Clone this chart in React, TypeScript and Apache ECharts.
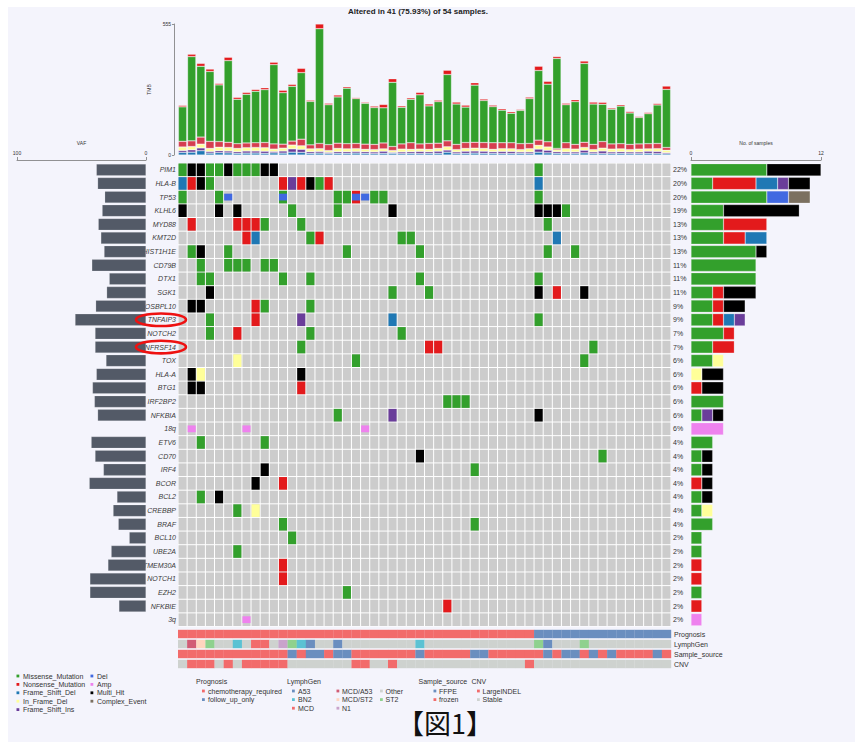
import React, { useEffect, useRef } from "react";
import * as echarts from "echarts";

const FONT = '"Liberation Sans", Arial, Helvetica, sans-serif';
const titleText = "Altered in 41 (75.93%) of 54 samples.";
const figLabel = "【図1】";

const samples = Array.from({ length: 54 }, (_, i) => "S" + (i + 1));

const genes = [
  "PIM1", "HLA-B", "TP53", "KLHL6", "MYD88", "KMT2D", "HIST1H1E", "CD79B", "DTX1", "SGK1",
  "OSBPL10", "TNFAIP3", "NOTCH2", "TNFRSF14", "TOX", "HLA-A", "BTG1", "IRF2BP2", "NFKBIA", "18q",
  "ETV6", "CD70", "IRF4", "BCOR", "BCL2", "CREBBP", "BRAF", "BCL10", "UBE2A", "TMEM30A",
  "NOTCH1", "EZH2", "NFKBIE", "3q",
];
const highlightedGenes = ["TNFAIP3", "TNFRSF14"];
const pctLabels = [
  "22%", "20%", "20%", "19%", "13%", "13%", "13%", "11%", "11%", "11%",
  "9%", "9%", "7%", "7%", "6%", "6%", "6%", "6%", "6%", "6%",
  "4%", "4%", "4%", "4%", "4%", "4%", "4%", "2%", "2%", "2%",
  "2%", "2%", "2%", "2%",
];
const vaf = [
  38.5, 37.5, 32, 34, 37, 35, 32.5, 42, 28.5, 30.5,
  39, 55, 39.5, 39.5, 31, 38.5, 41.5, 40, 37.5, null,
  42.5, 39.5, 33, 44, 22.5, 25.5, 21.5, 13, 27, 29.5,
  43.5, 43.5, 21, null,
];
// sample column + code: M missense, N nonsense, D FS del, I FS ins, F in-frame del,
// H multi hit, L Del (CNV), A Amp (CNV); two letters = mutation + CNV (complex event)
const geneAlts = [
  "0M 1H 2H 3M 4M 5H 6M 7M 8M 9H 10H 39M",
  "0D 1N 2H 3M 11N 12I 13N 14H 15M 16N 39D",
  "0M 4M 5L 11ML 17M 18M 19NL 20L 21M 22M 39M",
  "0H 4H 6H 12M 17M 23H 39H 40H 41H 42M",
  "1N 6N 7N 8N 9M 13M 40M",
  "7N 8D 14M 15N 24M 25M 41D",
  "1M 2H 5M 18M 26M 40M 43M",
  "2M 5M 6M 7M 9M 10M",
  "2M 3M 11M 14M 26M 39M",
  "3H 23M 27M 39H 41N 44H",
  "1H 2H 8N 9M 14M",
  "3M 8N 13I 23D 39M",
  "3M 6N 14M 24M",
  "13M 27N 28N 45M",
  "6F 19M 44M",
  "1H 2F 13H",
  "1H 2H 13N",
  "29M 30M 31M",
  "17M 23I 39H",
  "1A 7A 20A",
  "2M 9M",
  "26H 46M",
  "9H 32M",
  "8H 11N",
  "2M 4H",
  "6M 8F",
  "11M 32M",
  "12M",
  "6M",
  "11N",
  "11N",
  "18M",
  "29N",
  "7A",
];

// TMB stacked layers per sample
const tmbFsDel = [11,12,18,8,10,9,7,8,8,7,9,8,12,11,7,8,6,7,7,8,7,6,7,7,6,7,6,7,7,12,6,7,8,7,7,6,6,7,6,12,9,7,6,6,9,6,6,6,7,6,6,7,6,5];
const tmbFsIns = [8,10,12,7,8,8,7,9,9,9,6,9,14,13,7,7,5,7,7,7,7,7,9,4,7,7,9,7,9,9,7,9,9,9,7,9,9,6,7,13,11,7,7,7,11,7,11,7,7,7,7,9,9,5];
const tmbIfDel = [15,14,16,13,15,15,14,14,15,15,10,12,16,15,12,12,8,14,12,12,10,10,10,8,12,10,10,10,12,14,10,12,12,12,10,12,12,10,14,16,14,8,14,12,12,10,12,12,12,10,12,10,12,10];
const tmbSplice = [24,24,30,30,24,22,20,20,20,22,22,17,17,28,17,22,25,22,22,22,22,22,25,17,22,28,22,25,22,25,22,25,25,25,28,25,25,25,22,22,22,6,25,20,22,22,28,22,22,22,22,22,22,12];
const tmbMissense = [146,357,300,296,240,346,188,206,218,224,336,218,232,282,184,486,169,196,235,190,173,156,149,272,155,184,208,159,176,281,171,150,242,178,153,138,125,141,190,295,244,381,161,181,334,171,158,147,159,133,112,127,163,246];
const tmbNonsense = [6,10,12,10,6,14,8,8,8,8,10,10,8,18,5,20,6,8,6,4,4,6,14,15,6,6,10,8,6,18,8,8,10,6,6,6,6,4,6,18,12,8,6,8,10,8,8,5,6,6,4,5,6,14];

// annotation tracks (one char per sample)
const trackNames = ["Prognosis", "LymphGen", "Sample_source", "CNV"];
const prognosis = "CCCCCCCCCC" + "CCCCCCCCCC" + "CCCCCCCCCC" + "CCCCCCCCC" + "FFFFFFFFFFFFFFF";
const lymphGen = "OxysOObOmm" + "OnsbaOOaOO" + "OOOOOObOOO" + "OOOOOOOOOs" + "aOOOsOOOOO" + "OOOO";
const sampleSource = "rrrrrrrrrr" + "rrFrFFrFFr" + "rrrrrrFrrr" + "rrFFrrrrrr" + "FrFFrFrFrr" + "rrFr";
const cnvTrack = "SLLLSLSLLL" + "LLSSSSSSSL" + "LSSLSSSSSS" + "SSSSSSSSLS" + "SSSSSSSSSS" + "SSSS";

const RED = "#F26B6B";
const BLUE = "#6A8EBF";
const GREYA = "#CED2CF";
const progColors: Record<string, string> = { C: RED, F: BLUE };
const lymphColors: Record<string, string> = {
  a: BLUE, b: "#5BC2D3", m: RED, x: "#D15C75", y: "#FFD5BF", n: "#C9A3CB", O: GREYA, s: "#8FD18E",
};
const sourceColors: Record<string, string> = { F: BLUE, r: RED };
const cnvColors: Record<string, string> = { L: RED, S: GREYA };

const vcColors: Record<string, string> = {
  M: "#33A02C", N: "#E31A1C", D: "#1F78B4", I: "#6A3D9A", F: "#FFFF99",
  H: "#000000", L: "#4169E1", A: "#EE82EE", C: "#7B7060",
};
const countClasses = ["M", "N", "D", "I", "F", "H", "L", "A", "C"];

const legendVc1 = [
  ["Missense_Mutation", "M"], ["Nonsense_Mutation", "N"], ["Frame_Shift_Del", "D"],
  ["In_Frame_Del", "F"], ["Frame_Shift_Ins", "I"],
];
const legendVc2 = [["Del", "L"], ["Amp", "A"], ["Multi_Hit", "H"], ["Complex_Event", "C"]];
const legendProg = [["chemotherapy_required", RED], ["follow_up_only", BLUE]];
const legendLymph1 = [["A53", BLUE], ["BN2", "#5BC2D3"], ["MCD", RED]];
const legendLymph2 = [["MCD/A53", "#D15C75"], ["MCD/ST2", "#FFD5BF"], ["N1", "#C9A3CB"]];
const legendLymph3 = [["Other", GREYA], ["ST2", "#8FD18E"]];
const legendSource = [["FFPE", BLUE], ["frozen", RED]];
const legendCnv = [["LargeINDEL", RED], ["Stable", GREYA]];

// ---- build tables ----
type Cell = { col: number; row: number; mut?: string; cnv?: string };
const cellIndex: Record<string, Cell> = {};
const counts: Record<string, number[]> = {};
countClasses.forEach((c) => (counts[c] = genes.map(() => 0)));
geneAlts.forEach((s, row) => {
  s.split(" ").filter(Boolean).forEach((tok) => {
    const m = tok.match(/^(\d+)([A-Z]+)$/);
    if (!m) return;
    const col = +m[1];
    const codes = m[2];
    const cell: Cell = { col, row };
    for (const ch of codes) {
      if (ch === "L" || ch === "A") cell.cnv = ch;
      else cell.mut = ch;
    }
    cellIndex[row + "_" + col] = cell;
    const cls = codes.length > 1 ? "C" : codes;
    counts[cls][row] += 1;
  });
});
const mainCells: Cell[] = [];
genes.forEach((_, row) => {
  samples.forEach((__, col) => {
    mainCells.push(cellIndex[row + "_" + col] || { col, row });
  });
});
const annoCells: { col: number; row: number; color: string }[] = [];
const tracks = [
  [prognosis, progColors], [lymphGen, lymphColors], [sampleSource, sourceColors], [cnvTrack, cnvColors],
] as [string, Record<string, string>][];
tracks.forEach(([str, cmap], row) => {
  for (let col = 0; col < samples.length; col++) {
    annoCells.push({ col, row, color: cmap[str[col]] || GREYA });
  }
});

function legendBlock(items: string[][], sqX: number, txtX: number, y0: number, step: number, isVc: boolean) {
  const els: any[] = [];
  items.forEach(([label, c], i) => {
    const y = y0 + i * step;
    els.push({
      type: "rect", z: 5,
      shape: { x: sqX, y: y - 1.4, width: 2.8, height: 2.8 },
      style: { fill: isVc ? vcColors[c] : c },
    });
    els.push({
      type: "text", z: 5, x: txtX, y,
      style: { text: label, fill: "#333", fontSize: 7, fontFamily: FONT, align: "left", verticalAlign: "middle" },
    });
  });
  return els;
}
function legendTitle(text: string, x: number, y: number) {
  return {
    type: "text", z: 5, x, y,
    style: { text, fill: "#333", fontSize: 7, fontFamily: FONT, align: "left", verticalAlign: "middle" },
  };
}

const smallAxisText = { fontSize: 5, color: "#333", fontFamily: FONT };
const axisLineStyle = { color: "#777", width: 0.8 };

const GRID_TOP = 163;
const GRID_H = 463.5;

export default function App() {
  const ref = useRef<HTMLDivElement>(null);
  useEffect(() => {
    if (!ref.current) return;
    const chart = echarts.init(ref.current, null, { renderer: "svg" });

    const tmbLayers: [string, number[], string][] = [
      ["Frame_Shift_Del", tmbFsDel, "#1F78B4"],
      ["Frame_Shift_Ins", tmbFsIns, "#6A3D9A"],
      ["In_Frame_Del", tmbIfDel, "#FFFF99"],
      ["Splice_Site", tmbSplice, "#D53E4F"],
      ["Missense_Mutation", tmbMissense, "#33A02C"],
      ["Nonsense_Mutation", tmbNonsense, "#E31A1C"],
    ];

    const rowH = GRID_H / genes.length;
    const ellipses = highlightedGenes.map((g) => {
      const idx = genes.indexOf(g);
      return {
        type: "ellipse", z: 20,
        shape: { cx: 161, cy: GRID_TOP + rowH * (idx + 0.5), rx: 25, ry: 6.3 },
        style: { fill: "none", stroke: "#EE1111", lineWidth: 2.6 },
      };
    });

    const graphics: any[] = [
      { type: "rect", z: -10, shape: { x: 8, y: 7, width: 847, height: 736 }, style: { fill: "#F4F4FC" } },
      { type: "rect", z: -5, shape: { x: 178, y: GRID_TOP, width: 493, height: GRID_H }, style: { fill: "#FFFFFF" } },
      {
        type: "text", z: 5, x: 418, y: 11,
        style: { text: titleText, fill: "#222", fontSize: 8, fontWeight: "bold", fontFamily: FONT, align: "center", verticalAlign: "middle" },
      },
      {
        type: "text", z: 5, x: 445, y: 722,
        style: { text: figLabel, fill: "#111", fontSize: 27, fontFamily: '"Noto Sans CJK JP", sans-serif', align: "center", verticalAlign: "middle" },
      },
      ...ellipses,
      ...legendBlock(legendVc1, 16.5, 23, 676, 8.4, true),
      ...legendBlock(legendVc2, 90.5, 97, 676, 8.4, true),
      legendTitle("Prognosis", 196, 681),
      ...legendBlock(legendProg, 202, 208, 691, 8.6, false),
      legendTitle("LymphGen", 287, 681),
      ...legendBlock(legendLymph1, 292, 298, 691, 8.6, false),
      ...legendBlock(legendLymph2, 336.5, 342, 691, 8.6, false),
      ...legendBlock(legendLymph3, 380, 385.5, 691, 8.6, false),
      legendTitle("Sample_source", 418.5, 681),
      ...legendBlock(legendSource, 433.5, 439, 691, 8.6, false),
      legendTitle("CNV", 471.5, 681),
      ...legendBlock(legendCnv, 477, 482.5, 691, 8.6, false),
    ];

    const option: any = {
      animation: false,
      textStyle: { fontFamily: FONT },
      grid: [
        { left: 178, top: 24, width: 493, height: 131 },
        { left: 178, top: GRID_TOP, width: 493, height: GRID_H },
        { left: 17, top: GRID_TOP, width: 129, height: GRID_H },
        { left: 691, top: GRID_TOP, width: 130, height: GRID_H },
        { left: 178, top: 629, width: 493, height: 40 },
      ],
      xAxis: [
        { gridIndex: 0, type: "category", data: samples, show: false },
        { gridIndex: 1, type: "category", data: samples, show: false },
        {
          gridIndex: 2, type: "value", inverse: true, min: 0, max: 100, interval: 100,
          position: "top", offset: 3,
          axisLine: { show: true, lineStyle: axisLineStyle },
          axisTick: { show: true, length: 3, lineStyle: axisLineStyle },
          axisLabel: { ...smallAxisText, margin: 5 },
          splitLine: { show: false },
          name: "VAF", nameLocation: "middle", nameGap: 2, nameTextStyle: smallAxisText,
        },
        {
          gridIndex: 3, type: "value", min: 0, max: 12, interval: 12,
          position: "top", offset: 3,
          axisLine: { show: true, lineStyle: axisLineStyle },
          axisTick: { show: true, length: 3, lineStyle: axisLineStyle },
          axisLabel: { ...smallAxisText, margin: 5 },
          splitLine: { show: false },
          name: "No. of samples", nameLocation: "middle", nameGap: 2, nameTextStyle: smallAxisText,
        },
        { gridIndex: 4, type: "category", data: samples, show: false },
      ],
      yAxis: [
        {
          gridIndex: 0, type: "value", min: 0, max: 555, interval: 555, offset: 4,
          axisLine: { show: true, lineStyle: axisLineStyle },
          axisTick: { show: true, length: 2, lineStyle: axisLineStyle },
          axisLabel: { ...smallAxisText, margin: 3 },
          splitLine: { show: false },
          name: "TMB", nameLocation: "middle", nameGap: 10, nameRotate: 90, nameTextStyle: smallAxisText,
        },
        {
          gridIndex: 1, type: "category", data: genes, inverse: true,
          axisLine: { show: false }, axisTick: { show: false }, splitLine: { show: false },
          axisLabel: { interval: 0, fontSize: 7, fontStyle: "italic", color: "#3a3a3a", margin: 2, fontFamily: FONT },
        },
        {
          gridIndex: 1, type: "category", data: genes, inverse: true, position: "right",
          axisLine: { show: false }, axisTick: { show: false }, splitLine: { show: false },
          axisLabel: {
            interval: 0, fontSize: 7, color: "#333", margin: 2, fontFamily: FONT,
            formatter: (_v: string, idx: number) => pctLabels[idx],
          },
        },
        { gridIndex: 2, type: "category", data: genes, inverse: true, show: false },
        { gridIndex: 3, type: "category", data: genes, inverse: true, show: false },
        {
          gridIndex: 4, type: "category", data: trackNames, inverse: true, position: "right",
          axisLine: { show: false }, axisTick: { show: false }, splitLine: { show: false },
          axisLabel: { interval: 0, fontSize: 7, color: "#333", margin: 3, fontFamily: FONT },
        },
      ],
      graphic: { elements: graphics },
      series: [
        ...tmbLayers.map(([name, data, color]) => ({
          name, type: "bar", xAxisIndex: 0, yAxisIndex: 0, stack: "tmb", data,
          barWidth: 8.3,
          itemStyle: { color, borderColor: "rgba(255,255,255,0.55)", borderWidth: 0.5 },
        })),
        {
          type: "custom", xAxisIndex: 1, yAxisIndex: 1,
          data: mainCells.map((c) => [c.col, c.row]),
          encode: { x: 0, y: 1 },
          renderItem: (params: any, api: any) => {
            const cell = mainCells[params.dataIndex];
            const c = api.coord([cell.col, cell.row]);
            const s = api.size([1, 1]);
            const w = s[0] - 1;
            const h = s[1] - 1;
            const x0 = c[0] - s[0] / 2 + 0.5;
            const y0 = c[1] - s[1] / 2 + 0.5;
            const children: any[] = [
              { type: "rect", shape: { x: x0, y: y0, width: w, height: h }, style: { fill: "#CCCCCC" } },
            ];
            if (cell.mut) {
              children.push({ type: "rect", shape: { x: x0, y: y0, width: w, height: h }, style: { fill: vcColors[cell.mut] } });
            }
            if (cell.cnv) {
              children.push({
                type: "rect",
                shape: { x: x0, y: c[1] - s[1] * 0.25, width: w, height: s[1] * 0.5 },
                style: { fill: vcColors[cell.cnv] },
              });
            }
            return { type: "group", children };
          },
        },
        {
          type: "bar", xAxisIndex: 2, yAxisIndex: 3, data: vaf, barWidth: 11.8,
          itemStyle: { color: "#535A67", borderColor: "rgba(255,255,255,0.35)", borderWidth: 0.5 },
        },
        ...countClasses.map((cls) => ({
          type: "bar", xAxisIndex: 3, yAxisIndex: 4, stack: "cnt",
          data: counts[cls].map((v) => (v > 0 ? v : null)),
          barWidth: 12.3,
          itemStyle: { color: vcColors[cls], borderColor: "rgba(255,255,255,0.45)", borderWidth: 0.5 },
        })),
        {
          type: "custom", xAxisIndex: 4, yAxisIndex: 5,
          data: annoCells.map((c) => [c.col, c.row]),
          encode: { x: 0, y: 1 },
          renderItem: (params: any, api: any) => {
            const a = annoCells[params.dataIndex];
            const c = api.coord([a.col, a.row]);
            const s = api.size([1, 1]);
            return {
              type: "rect",
              shape: { x: c[0] - s[0] / 2, y: c[1] - s[1] / 2 + 0.8, width: s[0] + 0.2, height: s[1] - 1.6 },
              style: { fill: a.color },
            };
          },
        },
      ],
    };
    chart.setOption(option);
    return () => chart.dispose();
  }, []);

  return (
    <div
      ref={ref}
      style={{ position: "fixed", left: 0, top: 0, width: 861, height: 742, background: "#FFFFFF" }}
    />
  );
}
